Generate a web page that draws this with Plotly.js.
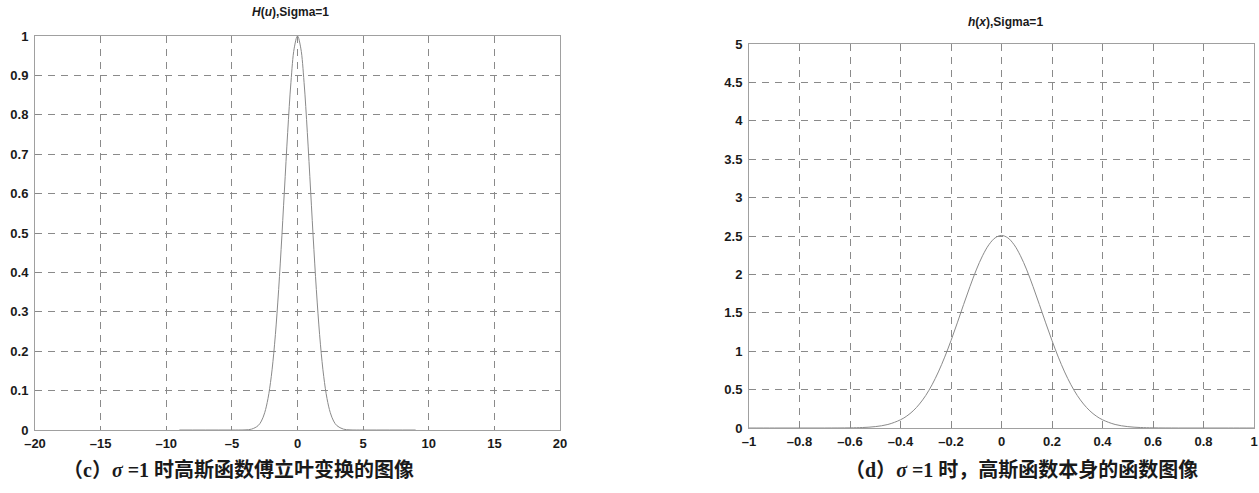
<!DOCTYPE html>
<html>
<head>
<meta charset="utf-8">
<script src="https://cdn.plot.ly/plotly-3.0.1.min.js"></script>
<style>html,body{margin:0;padding:0;background:#fff;}#chart{width:1259px;height:493px;}</style>
</head>
<body>
<div id="chart"></div>
<script>
// Left panel: H(u), Sigma=1
const uVals = [-9, -8, -7, -6, -5, -4, -3.5, -3, -2.75, -2.5, -2.25, -2, -1.75, -1.5, -1.25, -1, -0.75, -0.5, -0.25, 0,
               0.25, 0.5, 0.75, 1, 1.25, 1.5, 1.75, 2, 2.25, 2.5, 2.75, 3, 3.5, 4, 5, 6, 7, 8, 9];
const HVals = [0, 0, 0, 0, 0, 0.0003, 0.0022, 0.0111, 0.0228, 0.0439, 0.0796, 0.1353, 0.2163, 0.3247, 0.4578, 0.6065, 0.7548, 0.8825, 0.9692, 1,
               0.9692, 0.8825, 0.7548, 0.6065, 0.4578, 0.3247, 0.2163, 0.1353, 0.0796, 0.0439, 0.0228, 0.0111, 0.0022, 0.0003, 0, 0, 0, 0, 0];
// Right panel: h(x), Sigma=1
const xVals = [-1, -0.9, -0.8, -0.7, -0.6, -0.55, -0.5, -0.45, -0.4, -0.375, -0.35, -0.325, -0.3, -0.275, -0.25, -0.225, -0.2, -0.175, -0.15, -0.125, -0.1, -0.075, -0.05, -0.025, 0,
               0.025, 0.05, 0.075, 0.1, 0.125, 0.15, 0.175, 0.2, 0.225, 0.25, 0.275, 0.3, 0.325, 0.35, 0.375, 0.4, 0.45, 0.5, 0.55, 0.6, 0.7, 0.8, 0.9, 1];
const hVals = [0, 0, 0, 0, 0.002, 0.0064, 0.018, 0.046, 0.107, 0.156, 0.223, 0.312, 0.424, 0.563, 0.730, 0.923, 1.138, 1.369, 1.608, 1.841, 2.058, 2.243, 2.386, 2.476, 2.507,
               2.476, 2.386, 2.243, 2.058, 1.841, 1.608, 1.369, 1.138, 0.923, 0.730, 0.563, 0.424, 0.312, 0.223, 0.156, 0.107, 0.046, 0.018, 0.0064, 0.002, 0, 0, 0, 0];

const leftXTicks = [-20, -15, -10, -5, 0, 5, 10, 15, 20];
const leftYTicks = [0, 0.1, 0.2, 0.3, 0.4, 0.5, 0.6, 0.7, 0.8, 0.9, 1];
const rightXTicks = [-1, -0.8, -0.6, -0.4, -0.2, 0, 0.2, 0.4, 0.6, 0.8, 1];
const rightYTicks = [0, 0.5, 1, 1.5, 2, 2.5, 3, 3.5, 4, 4.5, 5];

const leftTitle = '<b><i>H</i>(<i>u</i>),Sigma=1</b>';
const rightTitle = '<b><i>h</i>(<i>x</i>),Sigma=1</b>';
const leftCaption = '<b>（c）<i>σ</i> =1 时高斯函数傅立叶变换的图像</b>';
const rightCaption = '<b>（d）<i>σ</i> =1 时，高斯函数本身的函数图像</b>';

const W = 1259, H = 493;
const px = v => v / W;
const py = v => (H - v) / H;

const tickFont = {family: 'Liberation Sans, Arial, sans-serif', size: 13, color: '#1a1a1a'};
function axis(dom, range, ticks, anchor, isX) {
  return {
    domain: dom, range: range, tickvals: ticks,
    ticktext: ticks.map(t => '<b>' + String(t).replace('-', '–') + '</b>'),
    showgrid: true, gridcolor: '#8a8a8a', gridwidth: 1, griddash: '7px,6px',
    zeroline: false, showline: true, mirror: true, linecolor: '#a0a0a0', linewidth: 1,
    ticks: 'inside', ticklen: 4, tickcolor: '#888', tickfont: tickFont, anchor: anchor, fixedrange: true,
    ticklabelstandoff: isX ? 1 : 3
  };
}

const data = [
  {x: uVals, y: HVals, xaxis: 'x', yaxis: 'y', type: 'scatter', mode: 'lines',
   line: {color: '#8a8a8a', width: 1, shape: 'spline'}, hoverinfo: 'skip'},
  {x: xVals, y: hVals, xaxis: 'x2', yaxis: 'y2', type: 'scatter', mode: 'lines',
   line: {color: '#8a8a8a', width: 1, shape: 'spline'}, hoverinfo: 'skip'}
];

const capFont = {family: 'Liberation Serif, Noto Sans CJK SC, serif', size: 20, color: '#1a1a1a'};
const titleFont = {family: 'Liberation Sans, Arial, sans-serif', size: 12, color: '#1a1a1a'};

const layout = {
  width: W, height: H, margin: {l: 0, r: 0, t: 0, b: 0},
  paper_bgcolor: '#fff', plot_bgcolor: '#fff', showlegend: false,
  xaxis: axis([px(35), px(560)], [-20, 20], leftXTicks, 'y', true),
  yaxis: axis([py(430), py(36)], [0, 1], leftYTicks, 'x', false),
  xaxis2: axis([px(749), px(1254)], [-1, 1], rightXTicks, 'y2', true),
  yaxis2: axis([py(428), py(44)], [0, 5], rightYTicks, 'x2', false),
  annotations: [
    {text: leftTitle, xref: 'paper', yref: 'paper', x: px(290), y: py(12), xanchor: 'center', yanchor: 'middle', showarrow: false, font: titleFont},
    {text: rightTitle, xref: 'paper', yref: 'paper', x: px(1005), y: py(22), xanchor: 'center', yanchor: 'middle', showarrow: false, font: titleFont},
    {text: leftCaption, xref: 'paper', yref: 'paper', x: px(238), y: py(469), xanchor: 'center', yanchor: 'middle', showarrow: false, font: capFont},
    {text: rightCaption, xref: 'paper', yref: 'paper', x: px(1021), y: py(469), xanchor: 'center', yanchor: 'middle', showarrow: false, font: capFont}
  ]
};

Plotly.newPlot('chart', data, layout, {staticPlot: true, displayModeBar: false});
</script>
</body>
</html>
